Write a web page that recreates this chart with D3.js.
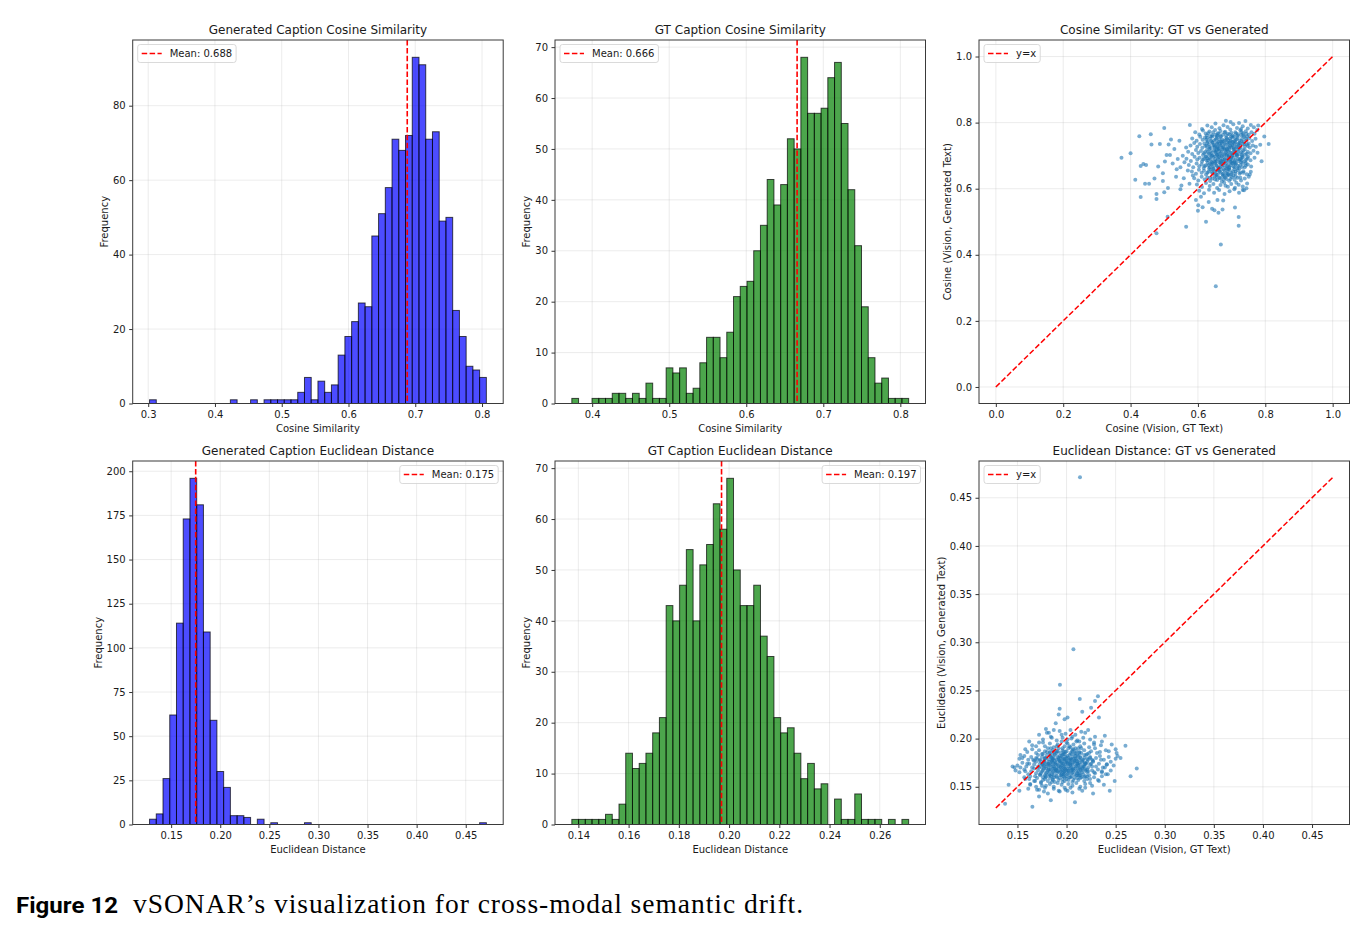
<!DOCTYPE html>
<html lang="en">
<head>
<meta charset="UTF-8" />
<title>vSONAR cross-modal semantic drift</title>
<script src="https://d3js.org/d3.v7.min.js"></script>
<style>
  body { margin: 0; background: #fff; }
  svg text { font-family: "DejaVu Sans", sans-serif; fill: #1a1a1a; }
</style>
</head>
<body>
<svg width="1371" height="936"></svg>
<script>
// ---- histogram data (50 bins between range[0] and range[1]) ----
const genCosRange = [0.302, 0.8065];
const genCosCounts = [1,0,0,0,0,0,0,0,0,0,0,0,1,0,0,1,0,1,1,1,1,1,3,7,1,6,3,5,13,18,22,27,26,45,51,58,71,68,72,93,91,71,73,49,50,25,18,10,9,7];
const genCosMean = 0.688;

const gtCosRange = [0.3736, 0.8108];
const gtCosCounts = [1,0,0,1,1,1,2,2,1,2,1,4,1,1,7,6,7,2,3,8,13,13,9,14,21,23,24,30,35,44,39,43,52,50,68,57,57,58,64,67,55,42,31,19,9,4,5,1,1,1];
const gtCosMean = 0.666;

const genEucRange = [0.128, 0.471];
const genEucCounts = [3,6,26,62,114,173,196,181,109,59,30,21,5,5,4,0,3,0,1,0,0,0,0,1,0,0,0,0,0,0,0,0,0,0,0,0,0,0,0,0,0,0,0,0,0,0,0,0,0,1];
const genEucMean = 0.175;

const gtEucRange = [0.1374, 0.2715];
const gtEucCounts = [1,1,1,1,1,2,1,4,14,11,12,14,18,21,43,40,47,54,40,51,55,63,58,68,50,43,43,47,37,33,21,18,19,14,9,12,7,8,0,5,1,1,6,1,1,1,0,1,0,1];
const gtEucMean = 0.197;

// ---- tick labels ----
const genCosXTicks = [0.3, 0.4, 0.5, 0.6, 0.7, 0.8];
const genCosYTicks = [0, 20, 40, 60, 80];
const gtCosXTicks = [0.4, 0.5, 0.6, 0.7, 0.8];
const gtCosYTicks = [0, 10, 20, 30, 40, 50, 60, 70];
const cosScatterTicks = [0.0, 0.2, 0.4, 0.6, 0.8, 1.0];
const genEucXTicks = [0.15, 0.20, 0.25, 0.30, 0.35, 0.40, 0.45];
const genEucYTicks = [0, 25, 50, 75, 100, 125, 150, 175, 200];
const gtEucXTicks = [0.14, 0.16, 0.18, 0.20, 0.22, 0.24, 0.26];
const gtEucYTicks = [0, 10, 20, 30, 40, 50, 60, 70];
const eucScatterTicks = [0.15, 0.20, 0.25, 0.30, 0.35, 0.40, 0.45];

// ---- scatter data: [vision-GT text, vision-generated text] ----
const cosDiag = [0, 1];
const cosScatter = [
  // sparse points away from the cloud
  [.373,.694],[.4,.707],[.426,.759],[.46,.765],[.462,.734],[.5,.784],[.487,.735],[.513,.734],[.52,.749],[.43,.669],
  [.438,.675],[.446,.672],[.414,.627],[.443,.615],[.455,.615],[.471,.631],[.43,.575],[.477,.584],[.477,.569],[.496,.623],
  [.496,.647],[.482,.667],[.502,.682],[.507,.702],[.517,.702],[.5,.589],[.511,.602],[.51,.515],[.477,.465],[.565,.485],
  [.624,.5],[.6,.533],[.614,.544],[.601,.55],[.594,.566],[.609,.576],[.632,.56],[.642,.539],[.649,.535],[.661,.527],
  [.673,.537],[.658,.566],[.675,.564],[.668,.431],[.653,.305],[.71,.543],[.721,.514],[.721,.488],[.576,.793],[.548,.598],
  [.551,.61],[.535,.636],[.537,.659],[.81,.735],[.797,.758],[.789,.683],[.779,.791],[.754,.643],[.744,.601],[.733,.596],
  [.53,.72],[.545,.745],[.555,.70],[.56,.68],[.548,.665],[.565,.725],[.57,.655],[.54,.69],[.525,.676],[.558,.632],
  [.575,.615],[.585,.64],
  // main cloud
  [.628,.791],[.641,.786],[.652,.797],[.664,.783],[.676,.792],[.688,.787],[.697,.802],[.705,.795],[.716,.784],[.722,.799],
  [.733,.789],[.741,.805],[.748,.782],[.757,.793],[.766,.786],[.612,.781],[.683,.806],[.728,.781],
  [.592,.771],[.604,.764],[.615,.776],[.623,.767],[.634,.773],[.642,.762],[.651,.778],[.659,.768],[.667,.775],[.674,.763],
  [.681,.772],[.689,.766],[.696,.779],[.703,.761],[.711,.771],[.719,.765],[.726,.777],[.734,.768],[.742,.774],[.751,.763],
  [.759,.771],[.768,.766],[.776,.778],[.657,.761],[.699,.769],[.728,.762],
  [.583,.752],[.596,.745],[.607,.757],[.614,.748],[.621,.755],[.629,.743],[.636,.751],[.643,.758],[.648,.746],[.655,.753],
  [.661,.742],[.667,.757],[.672,.749],[.678,.744],[.684,.755],[.69,.747],[.695,.752],[.701,.742],[.707,.758],[.712,.748],
  [.718,.754],[.724,.745],[.731,.751],[.737,.757],[.744,.746],[.752,.753],[.761,.744],[.771,.751],[.664,.748],[.686,.751],
  [.709,.744],[.627,.754],
  [.578,.731],[.589,.738],[.598,.727],[.606,.735],[.613,.724],[.619,.737],[.626,.729],[.633,.734],[.638,.723],[.644,.739],
  [.65,.728],[.656,.735],[.661,.722],[.666,.731],[.671,.738],[.676,.726],[.681,.733],[.686,.721],[.691,.736],[.696,.729],
  [.701,.734],[.706,.724],[.711,.739],[.716,.728],[.721,.733],[.727,.723],[.733,.737],[.739,.728],[.746,.734],[.754,.725],
  [.763,.731],[.772,.727],[.785,.733],[.648,.732],[.673,.724],[.699,.725],[.724,.738],[.658,.727],
  [.571,.712],[.583,.705],[.594,.717],[.601,.708],[.609,.714],[.615,.702],[.621,.711],[.627,.718],[.632,.706],[.638,.713],
  [.643,.701],[.648,.716],[.653,.709],[.658,.703],[.663,.714],[.668,.707],[.673,.719],[.678,.702],[.683,.711],[.688,.705],
  [.693,.717],[.698,.709],[.703,.702],[.708,.713],[.713,.706],[.718,.718],[.723,.704],[.729,.711],[.735,.716],[.741,.703],
  [.748,.712],[.756,.707],[.765,.715],[.777,.709],[.655,.714],[.681,.717],[.706,.719],[.731,.701],[.636,.703],[.691,.701],
  [.566,.691],[.579,.684],[.59,.697],[.598,.688],[.605,.694],[.612,.682],[.618,.691],[.624,.698],[.63,.686],[.635,.693],
  [.641,.681],[.646,.696],[.651,.689],[.656,.684],[.661,.695],[.666,.687],[.671,.699],[.676,.682],[.681,.692],[.686,.686],
  [.691,.697],[.696,.689],[.701,.683],[.706,.694],[.711,.687],[.716,.698],[.721,.684],[.727,.691],[.733,.695],[.74,.683],
  [.747,.692],[.756,.686],[.768,.694],[.651,.698],[.673,.688],[.699,.696],[.724,.689],[.628,.692],
  [.573,.672],[.586,.665],[.596,.676],[.604,.668],[.611,.674],[.617,.663],[.623,.671],[.629,.678],[.635,.666],[.641,.673],
  [.646,.662],[.651,.677],[.656,.669],[.661,.664],[.667,.675],[.672,.667],[.678,.679],[.683,.663],[.689,.672],[.694,.666],
  [.7,.677],[.706,.668],[.712,.674],[.718,.663],[.725,.671],[.732,.677],[.739,.665],[.748,.673],[.758,.667],[.664,.679],
  [.687,.661],[.709,.678],[.643,.678],
  [.582,.652],[.594,.645],[.603,.657],[.611,.648],[.618,.654],[.624,.643],[.631,.651],[.637,.658],[.643,.646],[.649,.653],
  [.655,.642],[.661,.657],[.667,.649],[.673,.644],[.679,.655],[.685,.647],[.691,.659],[.698,.643],[.704,.652],[.711,.646],
  [.718,.656],[.726,.649],[.735,.653],[.745,.644],[.757,.651],[.668,.658],[.692,.641],
  [.589,.632],[.601,.625],[.611,.636],[.62,.628],[.628,.634],[.636,.623],[.643,.631],[.65,.638],[.657,.626],[.664,.633],
  [.671,.622],[.678,.637],[.685,.629],[.693,.624],[.701,.635],[.709,.627],[.718,.633],[.728,.625],[.739,.631],[.751,.636],
  [.676,.628],[.655,.636],
  [.597,.613],[.612,.605],[.624,.617],[.635,.608],[.646,.614],[.657,.602],[.667,.611],[.678,.618],[.689,.606],[.699,.614],
  [.71,.603],[.721,.612],[.733,.607],[.746,.616],[.682,.609],[.714,.618],
  [.604,.594],[.618,.586],[.633,.597],[.648,.588],[.663,.596],[.679,.584],[.694,.592],[.708,.598],[.722,.588],[.737,.595],
  // densest part of the cloud
  [.631,.768],[.645,.771],[.662,.766],[.679,.77],[.694,.764],[.713,.767],[.729,.771],[.744,.766],
  [.625,.748],[.639,.744],[.653,.749],[.669,.741],[.682,.747],[.697,.745],[.715,.75],[.729,.744],[.742,.752],[.657,.757],[.703,.755],
  [.622,.729],[.634,.726],[.645,.732],[.657,.725],[.669,.729],[.679,.736],[.689,.727],[.703,.731],[.714,.726],[.726,.731],
  [.738,.735],[.748,.729],[.664,.736],[.694,.739],[.709,.735],
  [.618,.707],[.629,.711],[.641,.708],[.651,.712],[.662,.705],[.671,.711],[.68,.706],[.69,.713],[.7,.707],[.71,.71],
  [.72,.713],[.733,.708],[.745,.706],[.656,.719],[.686,.718],[.714,.702],
  [.615,.688],[.626,.685],[.638,.689],[.648,.683],[.659,.69],[.669,.684],[.679,.689],[.689,.682],[.698,.691],[.709,.683],
  [.719,.69],[.73,.686],[.743,.688],[.663,.697],[.692,.694],
  [.62,.668],[.632,.671],[.644,.667],[.654,.672],[.665,.665],[.676,.671],[.686,.668],[.697,.671],[.708,.665],[.719,.669],
  [.731,.666],[.742,.67],[.671,.676],[.703,.678],
  [.628,.648],[.641,.651],[.652,.647],[.664,.652],[.676,.646],[.688,.652],[.699,.648],[.712,.652],[.724,.645],[.735,.648],
  [.657,.655],[.694,.657],
  [.636,.633],[.651,.628],[.666,.632],[.681,.634],[.697,.629],[.712,.637],[.726,.633],[.687,.641],
  [.638,.758],[.652,.763],[.668,.759],[.684,.762],[.699,.757],[.717,.76],[.735,.762],
  [.642,.741],[.657,.738],[.672,.743],[.688,.739],[.704,.741],[.72,.737],[.736,.742],
  [.634,.721],[.649,.724],[.664,.719],[.678,.722],[.693,.725],[.708,.72],[.723,.723],[.739,.719],
  [.641,.699],[.656,.703],[.671,.698],[.685,.701],[.701,.699],[.716,.703],[.731,.697],
  [.637,.677],[.652,.681],[.667,.679],[.682,.676],[.697,.681],[.713,.677],[.728,.68],
  [.646,.659],[.661,.662],[.677,.658],[.693,.663],[.708,.659],[.723,.661],
  [.659,.642],[.674,.639],[.689,.644],[.705,.64],
  [.627,.761],[.746,.758],[.751,.737],[.628,.738],[.624,.697],[.749,.697],[.742,.678],[.633,.661]
];

const eucDiag = [0.128, 0.471];
const eucScatter = [
  // sparse points away from the cloud
  [.2137,.4713],[.207,.2928],[.1933,.2558],[.1374,.1324],[.1652,.1293],[.2086,.134],[.2652,.161],[.2715,.169],[.26,.1927],
  [.2135,.241],[.216,.228],[.229,.239],[.232,.244],[.225,.232],[.233,.222],[.193,.231],[.192,.225],[.201,.222],[.198,.22],
  [.189,.216],[.179,.21],[.18,.206],[.153,.183],[.158,.189],[.145,.171],[.147,.17],[.148,.167],[.141,.152],
  [.152,.146],[.161,.148],[.172,.14],[.177,.145],[.184,.136],[.216,.146],[.227,.143],[.244,.146],[.249,.156],[.255,.18],
  [.25,.189],[.251,.185],[.252,.182],[.246,.194],[.243,.187],[.239,.203],[.236,.197],[.229,.202],[.222,.209],[.219,.206],
  [.241,.173],[.236,.166],[.242,.163],[.233,.156],[.238,.152],[.219,.149],[.224,.154],[.201,.146],[.192,.146],[.175,.151],
  [.168,.156],[.162,.158],[.158,.166],[.153,.17],[.172,.204],[.169,.192],[.162,.197],[.185,.201],[.187,.209],
  [.157,.16],[.163,.153],[.17,.147],[.231,.185],[.235,.178],[.239,.17],[.245,.176],[.228,.196],[.213,.197],[.205,.2],
  [.195,.204],[.176,.196],[.166,.178],[.16,.174],[.155,.18],
  // main cloud
  [.172,.147],[.181,.143],[.187,.148],[.193,.145],[.199,.147],[.206,.144],[.213,.148],[.178,.149],
  [.163,.152],[.169,.15],[.174,.154],[.179,.151],[.183,.153],[.187,.15],[.191,.154],[.195,.152],[.198,.149],[.202,.153],
  [.206,.151],[.21,.154],[.214,.15],[.219,.153],[.226,.151],[.185,.155],[.196,.155],[.204,.149],
  [.158,.158],[.163,.161],[.167,.156],[.17,.159],[.173,.162],[.176,.157],[.179,.16],[.181,.156],[.184,.161],[.186,.158],
  [.188,.155],[.19,.16],[.192,.157],[.194,.162],[.196,.158],[.198,.156],[.2,.161],[.202,.157],[.204,.16],[.206,.155],
  [.208,.159],[.21,.162],[.212,.157],[.215,.16],[.218,.156],[.221,.161],[.224,.158],[.228,.16],[.232,.157],[.236,.161],
  [.183,.159],[.197,.161],[.211,.159],[.174,.155],
  [.152,.165],[.157,.168],[.161,.163],[.164,.166],[.167,.169],[.169,.164],[.171,.167],[.173,.163],[.175,.166],[.177,.169],
  [.179,.164],[.181,.167],[.182,.163],[.184,.168],[.186,.165],[.187,.162],[.189,.167],[.19,.164],[.192,.169],[.193,.165],
  [.195,.162],[.196,.167],[.198,.164],[.199,.168],[.201,.163],[.202,.166],[.204,.169],[.205,.164],[.207,.167],[.208,.163],
  [.21,.166],[.212,.169],[.213,.164],[.215,.167],[.217,.163],[.219,.168],[.221,.165],[.223,.162],[.226,.167],[.229,.164],
  [.232,.168],[.236,.165],[.24,.163],[.245,.167],[.188,.169],[.197,.163],[.206,.168],[.214,.162],[.178,.162],[.194,.166],
  [.15,.172],[.155,.175],[.159,.171],[.162,.174],[.165,.17],[.167,.173],[.169,.176],[.171,.171],[.173,.174],[.175,.17],
  [.176,.173],[.178,.176],[.179,.171],[.181,.174],[.182,.17],[.184,.173],[.185,.176],[.187,.171],[.188,.174],[.19,.17],
  [.191,.173],[.193,.176],[.194,.171],[.196,.174],[.197,.17],[.199,.173],[.2,.176],[.202,.171],[.203,.174],[.205,.17],
  [.206,.173],[.208,.176],[.209,.171],[.211,.174],[.213,.17],[.214,.173],[.216,.176],[.218,.171],[.22,.174],[.222,.17],
  [.224,.173],[.227,.176],[.23,.171],[.233,.174],[.237,.17],[.241,.173],[.248,.172],[.186,.175],[.195,.172],[.204,.175],
  [.212,.172],[.177,.175],[.198,.169],[.219,.175],[.183,.172],[.201,.175],
  [.152,.179],[.157,.182],[.161,.178],[.164,.181],[.167,.177],[.169,.18],[.171,.183],[.173,.178],[.175,.181],[.177,.177],
  [.179,.18],[.18,.183],[.182,.178],[.184,.181],[.185,.177],[.187,.18],[.188,.183],[.19,.178],[.191,.181],[.193,.177],
  [.194,.18],[.196,.183],[.197,.178],[.199,.181],[.2,.177],[.202,.18],[.203,.183],[.205,.178],[.206,.181],[.208,.177],
  [.209,.18],[.211,.183],[.213,.178],[.214,.181],[.216,.177],[.218,.18],[.22,.183],[.222,.178],[.224,.181],[.227,.177],
  [.23,.18],[.234,.182],[.238,.178],[.243,.181],[.25,.179],[.186,.179],[.195,.182],[.204,.179],[.212,.182],[.198,.179],
  [.183,.182],[.21,.179],
  [.16,.186],[.165,.189],[.169,.185],[.172,.188],[.175,.184],[.178,.187],[.181,.19],[.183,.185],[.186,.188],[.188,.184],
  [.19,.187],[.192,.19],[.194,.185],[.196,.188],[.198,.184],[.2,.187],[.202,.19],[.204,.185],[.206,.188],[.208,.184],
  [.21,.187],[.212,.19],[.215,.185],[.218,.188],[.221,.184],[.225,.187],[.229,.19],[.234,.186],[.24,.188],[.197,.186],
  [.207,.189],[.187,.186],
  [.165,.193],[.172,.196],[.178,.192],[.183,.195],[.187,.191],[.191,.194],[.195,.197],[.198,.192],[.201,.195],[.204,.191],
  [.207,.194],[.21,.197],[.214,.192],[.218,.195],[.223,.191],[.228,.194],[.235,.193],[.2,.196],
  [.176,.199],[.184,.202],[.19,.198],[.196,.201],[.201,.199],[.206,.202],[.211,.198],[.217,.201],[.224,.199],
  [.182,.206],[.193,.208],[.199,.205],[.204,.209],[.209,.204],[.215,.207],
  // densest part of the cloud
  [.178,.158],[.186,.157],[.193,.159],[.2,.158],[.207,.157],[.214,.159],[.221,.158],
  [.174,.164],[.18,.165],[.185,.163],[.191,.166],[.197,.165],[.2,.167],[.206,.165],[.211,.164],[.216,.165],[.222,.166],[.228,.165],
  [.172,.17],[.177,.172],[.182,.168],[.186,.171],[.189,.168],[.192,.172],[.195,.168],[.198,.171],[.201,.169],[.204,.172],
  [.207,.169],[.21,.172],[.214,.168],[.217,.171],[.221,.168],[.226,.171],
  [.173,.177],[.178,.179],[.182,.176],[.186,.178],[.189,.175],[.192,.178],[.195,.175],[.198,.177],[.201,.174],[.204,.177],
  [.207,.175],[.21,.177],[.213,.175],[.217,.178],[.221,.176],[.226,.178],
  [.176,.184],[.18,.186],[.185,.183],[.19,.185],[.193,.182],[.197,.184],[.201,.182],[.205,.184],[.209,.182],[.213,.185],
  [.218,.183],[.223,.185],
  [.184,.19],[.19,.192],[.196,.19],[.203,.192],[.209,.19],[.215,.19],
  [.168,.161],[.176,.16],[.183,.162],[.19,.161],[.198,.16],[.205,.161],[.213,.162],[.219,.161],
  [.17,.179],[.18,.173],[.188,.177],[.196,.179],[.203,.178],[.211,.176],[.219,.174],[.224,.18],
  [.179,.169],[.187,.166],[.194,.17],[.202,.167],[.209,.169],[.216,.17],
  [.179,.161],[.187,.16],[.195,.163],[.203,.16],[.211,.162],[.218,.16],
  [.176,.167],[.183,.166],[.19,.167],[.198,.166],[.205,.167],[.212,.166],[.219,.167],
  [.175,.173],[.182,.174],[.189,.173],[.197,.174],[.204,.173],[.211,.174],[.218,.173],[.225,.174],
  [.178,.18],[.185,.18],[.192,.18],[.2,.18],[.207,.179],[.214,.18],[.221,.179],
  [.183,.186],[.191,.187],[.199,.186],[.206,.187],[.213,.186],
  [.194,.176],[.202,.164],[.186,.169],[.209,.185],[.216,.169]
];

// ---- layout ----
const svg = d3.select("svg");
svg.append("rect").attr("width", 1371).attr("height", 936).attr("fill", "#fff");

const colX = [132.7, 555, 979];
const rowY = [40, 461];
const pw = 370.5, ph = 363.5;
const FONT = "DejaVu Sans";

function pad5(lo, hi) {
  const m = (hi - lo) * 0.05;
  return [lo - m, hi + m];
}

function makePanel(col, row) {
  return svg.append("g").attr("transform", `translate(${colX[col]},${rowY[row]})`);
}

function drawGrid(g, x, y, xt, yt) {
  const gg = g.append("g").attr("stroke", "#b0b0b0").attr("stroke-opacity", 0.3).attr("stroke-width", 0.8);
  gg.selectAll(".gx").data(xt).join("line")
    .attr("x1", d => x(d)).attr("x2", d => x(d)).attr("y1", 0).attr("y2", ph);
  gg.selectAll(".gy").data(yt).join("line")
    .attr("x1", 0).attr("x2", pw).attr("y1", d => y(d)).attr("y2", d => y(d));
}

function drawAxes(g, x, y, o) {
  g.append("rect").attr("width", pw).attr("height", ph)
    .attr("fill", "none").attr("stroke", "#3a3a3a").attr("stroke-width", 1);

  const xa = g.append("g").attr("transform", `translate(0,${ph})`)
    .call(d3.axisBottom(x).tickValues(o.xt).tickFormat(o.xf).tickSize(3.5).tickPadding(3.5));
  const ya = g.append("g")
    .call(d3.axisLeft(y).tickValues(o.yt).tickFormat(o.yf).tickSize(3.5).tickPadding(3.5));
  [xa, ya].forEach(a => {
    a.select(".domain").remove();
    a.attr("font-family", FONT).attr("font-size", 10).style("color", "#333");
    a.selectAll("text").style("fill", "#1a1a1a");
  });

  // titles and axis labels
  g.append("text").attr("x", pw / 2).attr("y", -6).attr("text-anchor", "middle")
    .attr("font-size", 12).text(o.title);
  g.append("text").attr("x", pw / 2).attr("y", ph + 28.5).attr("text-anchor", "middle")
    .attr("font-size", 10).text(o.xlabel);
  const yb = ya.node().getBBox();
  g.append("text").attr("transform", `translate(${yb.x - 5},${ph / 2}) rotate(-90)`)
    .attr("text-anchor", "middle").attr("font-size", 10).text(o.ylabel);
}

function drawLegend(g, label, side) {
  const lg = g.append("g");
  const t = lg.append("text").attr("font-size", 10).text(label);
  const tw = t.node().getComputedTextLength();
  const bw = 32 + tw + 4, bh = 18;
  const bx = side === "left" ? 5 : pw - 5 - bw, by = 4.5;
  lg.insert("rect", "text").attr("x", bx).attr("y", by).attr("width", bw).attr("height", bh)
    .attr("rx", 2.5).attr("fill", "#fff").attr("fill-opacity", 0.8)
    .attr("stroke", "#d0d0d0").attr("stroke-width", 0.8);
  lg.append("line").attr("x1", bx + 4).attr("x2", bx + 24).attr("y1", by + bh / 2).attr("y2", by + bh / 2)
    .attr("stroke", "red").attr("stroke-width", 1.5).attr("stroke-dasharray", "5.5,2.4");
  t.attr("x", bx + 32).attr("y", by + bh / 2).attr("dy", "0.35em");
}

function histPanel(col, row, o) {
  const g = makePanel(col, row);
  const n = o.counts.length;
  const step = (o.range[1] - o.range[0]) / n;
  const bins = o.counts.map((c, i) => ({ x0: o.range[0] + i * step, x1: o.range[0] + (i + 1) * step, c }));
  const x = d3.scaleLinear().domain(pad5(o.range[0], o.range[1])).range([0, pw]);
  const y = d3.scaleLinear().domain([0, d3.max(o.counts) * 1.05]).range([ph, 0]);

  drawGrid(g, x, y, o.xt, o.yt);

  g.append("g").selectAll("rect").data(bins.filter(b => b.c > 0)).join("rect")
    .attr("x", d => x(d.x0)).attr("width", d => x(d.x1) - x(d.x0))
    .attr("y", d => y(d.c)).attr("height", d => y(0) - y(d.c))
    .attr("fill", o.color).attr("fill-opacity", 0.7)
    .attr("stroke", "#000").attr("stroke-opacity", 0.7).attr("stroke-width", 1);

  g.append("line").attr("x1", x(o.mean)).attr("x2", x(o.mean)).attr("y1", 0).attr("y2", ph)
    .attr("stroke", "red").attr("stroke-width", 1.6).attr("stroke-dasharray", "5.5,2.4");

  drawAxes(g, x, y, o);
  drawLegend(g, `Mean: ${o.mean.toFixed(3)}`, o.legend);
}

function scatterPanel(col, row, o) {
  const g = makePanel(col, row);
  const dom = pad5(o.diag[0], o.diag[1]);
  const x = d3.scaleLinear().domain(dom).range([0, pw]);
  const y = d3.scaleLinear().domain(dom).range([ph, 0]);

  drawGrid(g, x, y, o.xt, o.yt);

  g.append("g").selectAll("circle").data(o.points).join("circle")
    .attr("cx", d => x(d[0])).attr("cy", d => y(d[1])).attr("r", 2)
    .attr("fill", "#1f77b4").attr("fill-opacity", 0.6);

  g.append("line").attr("x1", x(o.diag[0])).attr("y1", y(o.diag[0]))
    .attr("x2", x(o.diag[1])).attr("y2", y(o.diag[1]))
    .attr("stroke", "red").attr("stroke-width", 1.5).attr("stroke-dasharray", "5.5,2.4");

  drawAxes(g, x, y, o);
  drawLegend(g, "y=x", "left");
}

const f1 = d3.format(".1f"), f2 = d3.format(".2f"), fd = d3.format("d");

histPanel(0, 0, {
  range: genCosRange, counts: genCosCounts, mean: genCosMean, color: "blue",
  xt: genCosXTicks, yt: genCosYTicks, xf: f1, yf: fd, legend: "left",
  title: "Generated Caption Cosine Similarity", xlabel: "Cosine Similarity", ylabel: "Frequency"
});
histPanel(1, 0, {
  range: gtCosRange, counts: gtCosCounts, mean: gtCosMean, color: "green",
  xt: gtCosXTicks, yt: gtCosYTicks, xf: f1, yf: fd, legend: "left",
  title: "GT Caption Cosine Similarity", xlabel: "Cosine Similarity", ylabel: "Frequency"
});
scatterPanel(2, 0, {
  points: cosScatter, diag: cosDiag, xt: cosScatterTicks, yt: cosScatterTicks, xf: f1, yf: f1,
  title: "Cosine Similarity: GT vs Generated",
  xlabel: "Cosine (Vision, GT Text)", ylabel: "Cosine (Vision, Generated Text)"
});
histPanel(0, 1, {
  range: genEucRange, counts: genEucCounts, mean: genEucMean, color: "blue",
  xt: genEucXTicks, yt: genEucYTicks, xf: f2, yf: fd, legend: "right",
  title: "Generated Caption Euclidean Distance", xlabel: "Euclidean Distance", ylabel: "Frequency"
});
histPanel(1, 1, {
  range: gtEucRange, counts: gtEucCounts, mean: gtEucMean, color: "green",
  xt: gtEucXTicks, yt: gtEucYTicks, xf: f2, yf: fd, legend: "right",
  title: "GT Caption Euclidean Distance", xlabel: "Euclidean Distance", ylabel: "Frequency"
});
scatterPanel(2, 1, {
  points: eucScatter, diag: eucDiag, xt: eucScatterTicks, yt: eucScatterTicks, xf: f2, yf: f2,
  title: "Euclidean Distance: GT vs Generated",
  xlabel: "Euclidean (Vision, GT Text)", ylabel: "Euclidean (Vision, Generated Text)"
});

// ---- figure caption ----
svg.append("text").attr("x", 16).attr("y", 913)
  .style("font-family", "Roboto, sans-serif").style("font-weight", 700).attr("font-size", 22)
  .attr("textLength", 102).attr("lengthAdjust", "spacingAndGlyphs").style("fill", "#000")
  .text("Figure 12");
svg.append("text").attr("x", 133).attr("y", 913)
  .style("font-family", "'Liberation Serif', serif").attr("font-size", 27.5)
  .attr("textLength", 670).style("fill", "#000")
  .text("vSONAR\u2019s visualization for cross-modal semantic drift.");
</script>
</body>
</html>
